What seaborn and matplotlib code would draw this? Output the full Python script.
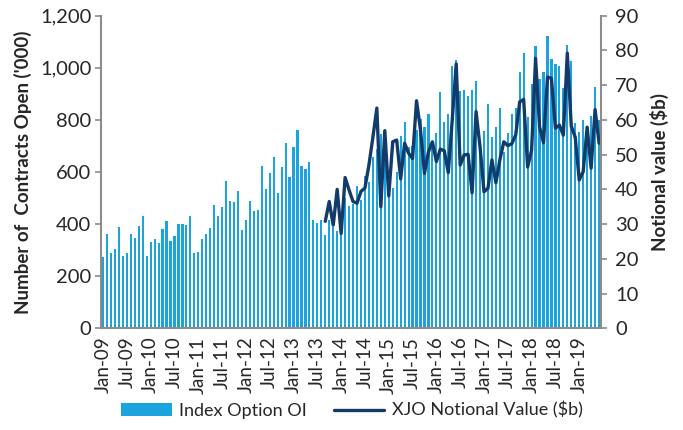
import numpy as np
import pandas as pd
import matplotlib
matplotlib.use("Agg")
import matplotlib.pyplot as plt
import seaborn as sns
from matplotlib.patches import Patch
from matplotlib.lines import Line2D

sns.set_theme(style="white")
plt.rcParams['font.family'] = ['Lato', 'DejaVu Sans']

# ==========================
#  Data
# ==========================
months = pd.date_range("2009-01-01", periods=126, freq="MS").strftime("%b-%y").tolist()

# Index option open interest ('000), Jan-09 .. Jun-19
index_oi = [
    275, 361, 289, 306, 388, 276, 290, 361, 347, 393, 432, 278,
    331, 342, 327, 380, 411, 335, 353, 399, 399, 395, 432, 289,
    294, 342, 361, 386, 472, 431, 464, 564, 490, 486, 528, 379,
    416, 487, 452, 453, 623, 533, 597, 656, 519, 620, 710, 581,
    695, 761, 624, 611, 637, 414, 404, 414, 358, 416, 390, 375,
    440, 499, 470, 477, 547, 492, 585, 560, 659, 690, 746, 680,
    557, 540, 599, 739, 791, 697, 700, 760, 803, 773, 824, 700,
    751, 906, 791, 821, 1006, 1030, 911, 913, 893, 915, 949, 701,
    757, 861, 733, 774, 845, 676, 749, 823, 847, 984, 1057, 811,
    937, 1083, 957, 983, 1123, 1034, 1015, 1008, 921, 1088, 1027, 790,
    752, 800, 778, 815, 928, 800,
]

# XJO notional value ($b), Sep-13 .. Jun-19
xjo_start = "Sep-13"
xjo_value = [
    30.8, 36.5, 29.7, 40.0, 27.3, 43.4, 39.8, 36.5, 36.0, 39.4,
    40.4, 47.0, 55.0, 63.4, 35.0, 56.9, 38.1, 53.7, 54.2, 43.0,
    53.3, 50.4, 48.9, 65.5, 57.1, 44.6, 50.8, 53.7, 48.0, 51.6,
    51.1, 44.8, 60.0, 76.1, 47.0, 49.9, 50.1, 39.0, 62.4, 52.3,
    39.3, 40.3, 48.5, 41.9, 48.5, 53.7, 52.6, 53.1, 55.7, 65.2,
    65.9, 46.4, 51.3, 77.7, 58.0, 53.4, 72.3, 72.0, 57.6, 58.5,
    55.6, 79.2, 58.2, 55.0, 42.7, 45.1, 57.9, 46.1, 63.0, 53.3,
]

bar_color = "#1AA3DD"
line_color = "#123B6A"
axis_gray = "#8C8C8C"

df = pd.DataFrame({"month": months, "oi": index_oi})
start = months.index(xjo_start)
line_df = pd.DataFrame({"pos": np.arange(start, start + len(xjo_value)),
                        "value": xjo_value})

# ==========================
#  Plot
# ==========================
fig, ax = plt.subplots(figsize=(6.83, 4.30), dpi=100)
fig.subplots_adjust(left=0.148, right=0.880, top=0.9635, bottom=0.2365)

sns.barplot(data=df, x="month", y="oi", order=months, color=bar_color,
            saturation=1, width=0.55, linewidth=0, edgecolor="none", ax=ax)

ax2 = ax.twinx()
sns.lineplot(data=line_df, x="pos", y="value", color=line_color,
             linewidth=2.4, ax=ax2)

ax.set_xlim(-0.5, len(months) - 0.5)
ax.set_ylim(0, 1200)
ax2.set_ylim(0, 90)

fs = 13.5
yfs = 14.5
ax.set_yticks(np.arange(0, 1201, 200))
ax.set_yticklabels([f"{v:,}" for v in range(0, 1201, 200)], fontsize=yfs)
ax2.set_yticks(np.arange(0, 91, 10))
ax2.set_yticklabels([str(v) for v in range(0, 91, 10)], fontsize=yfs)

ax.set_xticks(np.arange(0, len(months), 6))
ax.set_xticklabels(months[::6], rotation=90, fontsize=fs)
ax.set_xticks(np.arange(-0.5, len(months), 6), minor=True)
ax.tick_params(axis="x", which="major", length=0, pad=6)
ax.tick_params(axis="x", which="minor", length=4, width=1.2, color=axis_gray)
ax.tick_params(axis="y", length=4, width=1.2, color=axis_gray, left=True, pad=3)
ax2.tick_params(axis="y", length=4, width=1.2, color=axis_gray, right=True, pad=6)

ax.set_xlabel("")
ax2.set_xlabel("")
ax.set_ylabel("Number of  Contracts Open ('000)", fontsize=fs, fontweight="bold",
              labelpad=6)
ax2.set_ylabel("Notional value ($b)", fontsize=fs, fontweight="bold", labelpad=8)

for a in (ax, ax2):
    for s in a.spines.values():
        s.set_visible(False)
ax.spines["left"].set_visible(True)
ax.spines["bottom"].set_visible(True)
ax2.spines["right"].set_visible(True)
for s in (ax.spines["left"], ax.spines["bottom"], ax2.spines["right"]):
    s.set_color(axis_gray)
    s.set_linewidth(1.5)

handles = [Patch(facecolor=bar_color, edgecolor="none"),
           Line2D([0], [0], color=line_color, linewidth=2.4)]
fig.legend(handles, ["Index Option OI", "XJO Notional Value ($b)"],
           loc="lower center", bbox_to_anchor=(0.515, -0.012), ncol=2,
           frameon=False, fontsize=13, handlelength=2.8, handleheight=0.7,
           handletextpad=0.4, columnspacing=1.5)

fig.savefig("out.png", dpi=100)
